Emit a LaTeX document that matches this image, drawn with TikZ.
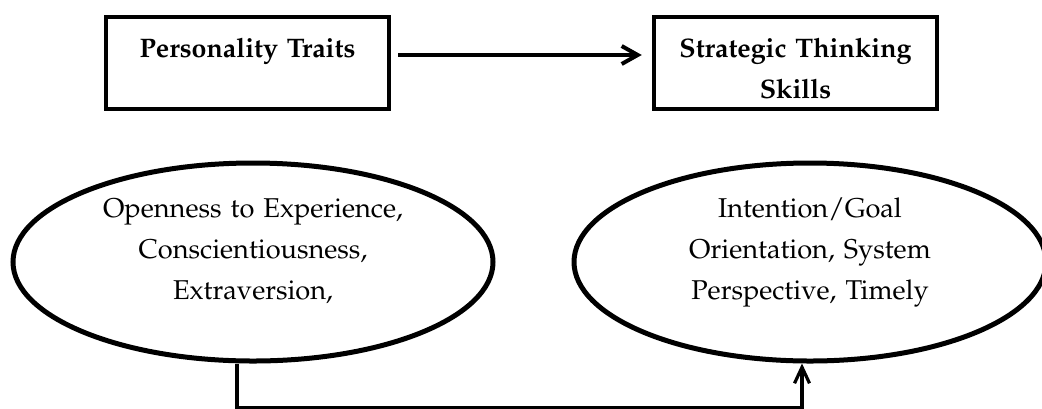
\documentclass[tikz,border=0pt]{standalone}
\usepackage[T1]{fontenc}
\usepackage{mathpazo}
\usetikzlibrary{arrows.meta,shapes.geometric}

\begin{document}
\begin{tikzpicture}[x=0.5pt, y=-0.5pt,
	box/.style={draw, line width=2.25pt, minimum width=141.5pt, minimum height=46pt,
		inner sep=0pt, text width=130pt, align=center, text height=20pt, text depth=26pt,
		font=\fontsize{13.4}{20.5}\selectfont\bfseries},
	oval/.style={draw, ellipse, line width=2.5pt, minimum height=99pt, inner sep=0pt,
		text width=150pt, align=center, text height=8pt, text depth=53pt,
		font=\fontsize{13.6}{20.5}\selectfont},
	link/.style={line width=2pt, -{Straight Barb[length=8pt, width=9pt]}},
	back/.style={line width=1.6pt, -{Straight Barb[length=8pt, width=7.5pt]}}
	]
	\useasboundingbox (0,0) rectangle (1042,408);
	% the two headings
	\foreach \name/\coord/\label in {
		pt/{247.5,63}/{Personality Traits},
		sts/{795.5,63}/{Strategic Thinking\\Skills}
	}{
	\node[box] (\name) at (\coord) {\label};
	}
	% the two groups of variables
	\node[oval, minimum width=240pt] (traits) at (253,262)
		{Openness to Experience,\\Conscientiousness,\\Extraversion,};
	\node[oval, minimum width=236pt] (skills) at (810,262)
		{Intention/Goal\\Orientation, System\\Perspective, Timely};
	\draw[link, shorten <=3.5pt, shorten >=5pt] ([yshift=4pt]pt.east) -- ([yshift=4pt]sts.west);
	\draw[back] ([xshift=-8pt]traits.south) -- ++(0,44) -| ([xshift=-4pt]skills.south);
\end{tikzpicture}
\end{document}
